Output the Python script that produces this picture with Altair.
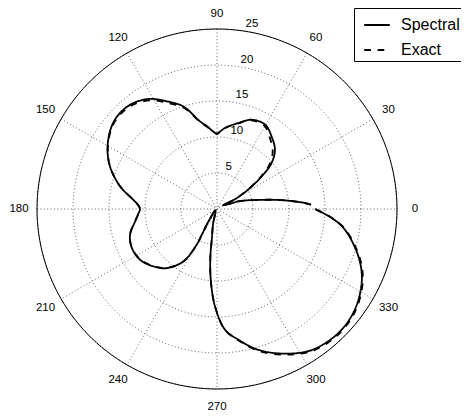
import altair as alt
import numpy as np
import pandas as pd

# ---- data (angle in degrees, radius) in drawing order ----
theta_deg = [2.6, 3.9, 6.7, 9.6, 13.3, 16.5, 19.9, 22.2, 32.3, 29.5, 28.6, 31.9, 36.1,
             40.1, 45.6, 53.0, 60.3, 68.8, 76.1, 84.4, 87.5, 90.0, 93.0, 97.0, 101.0,
             108.2, 115.0, 121.3, 128.3, 135.3, 141.9, 150.3, 158.3, 166.9, 173.7,
             177.0, 180.0, 183.5, 188.6, 196.5, 204.6, 213.4, 222.0, 229.5, 237.3,
             240.4, 239.4, 235.3, 219.0, 255.4, 260.0, 262.2, 265.0, 268.8, 273.8,
             279.3, 286.4, 295.2, 303.9, 314.4, 323.9, 333.9, 341.5, 350.8, 355.5, 360.0]
r_spectral = [13.07, 12.25, 9.93, 7.7, 5.4, 4.2, 3.1, 1.95, 0.98, 1.92, 2.85, 5.06, 7.7,
              9.9, 11.5, 12.6, 13.5, 13.3, 12.3, 11.3, 10.8, 10.45, 10.8, 11.6, 12.4,
              15.0, 16.5, 17.9, 18.75, 18.96, 18.6, 17.5, 16.0, 13.8, 11.7,
              11.0, 10.7, 10.95, 11.5, 12.6, 13.0, 12.8, 11.9, 10.8, 8.65,
              5.7, 4.1, 2.03, 0.27, 2.2, 4.05, 6.83, 9.9, 13.5, 16.8,
              18.4, 20.4, 22.2, 23.6, 24.1, 23.7, 22.4, 20.7, 18.0, 16.0, 13.6]
r_exact = [13.07, 12.25, 9.93, 7.7, 5.4, 4.2, 3.1, 1.95, 0.98, 1.92, 2.85, 4.9, 7.4,
           9.5, 11.05, 12.25, 13.3, 13.2, 12.25, 11.3, 10.8, 10.45, 10.8, 11.5, 12.3,
           14.8, 16.25, 17.65, 18.55, 18.8, 18.5, 17.45, 16.0, 13.8, 11.7,
           11.0, 10.7, 10.95, 11.5, 12.6, 13.0, 12.75, 11.85, 10.75, 8.65,
           5.7, 4.1, 2.03, 0.27, 2.2, 4.05, 6.83, 9.9, 13.5, 16.85,
           18.5, 20.55, 22.35, 23.75, 24.25, 23.85, 22.55, 20.85, 18.1, 16.05, 13.6]

series_names = ["Spectral", "Exact"]
angle_ticks = [0, 30, 60, 90, 120, 150, 180, 210, 240, 270, 300, 330]
angle_labels = [str(a) for a in angle_ticks]
ring_values = [5, 10, 15, 20, 25]
ring_labels = [str(v) for v in ring_values]
spoke_angles = [30, 60, 90, 120, 150, 180]
r_max = 25

FONT = "Liberation Sans"

n = len(theta_deg)
curve_df = pd.DataFrame({
    "theta": theta_deg + theta_deg,
    "r": r_spectral + r_exact,
    "series": [series_names[0]] * n + [series_names[1]] * n,
    "idx": list(range(n)) + list(range(n)),
})

# grid-circle geometry
circ_a = np.arange(0, 361, 2)
circ_rows = [{"ring": rv, "a": float(a)} for rv in ring_values for a in circ_a]
circle_df = pd.DataFrame(circ_rows)

spoke_df = pd.DataFrame({"a": spoke_angles})
angle_df = pd.DataFrame({"a": angle_ticks, "label": angle_labels})
ringlab_df = pd.DataFrame({"v": ring_values, "label": ring_labels})

xs = alt.Scale(domain=[-r_max, r_max], nice=False, zero=False)
ys = alt.Scale(domain=[-r_max, r_max], nice=False, zero=False)
X = lambda f: alt.X(f, type="quantitative", scale=xs, axis=None)
Y = lambda f: alt.Y(f, type="quantitative", scale=ys, axis=None)

grid_circles = alt.Chart(circle_df).transform_calculate(
    x="datum.ring*cos(datum.a*PI/180)", y="datum.ring*sin(datum.a*PI/180)"
).mark_line(color="#555555", strokeWidth=0.9, strokeDash=[1, 2.4]).encode(
    x=X("x"), y=Y("y"), detail="ring:N", order="a:Q"
)

outer_circle = alt.Chart(circle_df).transform_filter(
    alt.datum.ring == r_max
).transform_calculate(
    x="datum.ring*cos(datum.a*PI/180)", y="datum.ring*sin(datum.a*PI/180)"
).mark_line(color="black", strokeWidth=1).encode(
    x=X("x"), y=Y("y"), order="a:Q"
)

spokes = alt.Chart(spoke_df).transform_calculate(
    x=f"{r_max}*cos(datum.a*PI/180)", y=f"{r_max}*sin(datum.a*PI/180)",
    x2=f"-{r_max}*cos(datum.a*PI/180)", y2=f"-{r_max}*sin(datum.a*PI/180)",
).mark_rule(color="#555555", strokeWidth=0.9, strokeDash=[1, 2.4]).encode(
    x=X("x"), y=Y("y"), x2="x2:Q", y2="y2:Q"
)

angle_base = alt.Chart(angle_df).transform_calculate(
    x=f"1.1*{r_max}*cos(datum.a*PI/180)", y=f"1.1*{r_max}*sin(datum.a*PI/180)"
)
angle_text = angle_base.transform_filter(alt.datum.a != 90).mark_text(
    font=FONT, fontSize=11.5, color="black", align="center", baseline="middle"
).encode(x=X("x"), y=Y("y"), text="label:N")
# the top label sits at the page edge: nudge it down so it stays whole
angle_text_top = angle_base.transform_filter(alt.datum.a == 90).mark_text(
    font=FONT, fontSize=11.5, color="black", align="center", baseline="middle", dy=3
).encode(x=X("x"), y=Y("y"), text="label:N")

ring_text = alt.Chart(ringlab_df).transform_calculate(
    x="(datum.v+0.25)*cos(82*PI/180)", y="(datum.v+0.25)*sin(82*PI/180)"
).mark_text(font=FONT, fontSize=11.5, color="black", align="left", baseline="bottom", dx=3.2).encode(
    x=X("x"), y=Y("y"), text="label:N"
)

curves = alt.Chart(curve_df).transform_calculate(
    x="datum.r*cos(datum.theta*PI/180)", y="datum.r*sin(datum.theta*PI/180)"
).mark_line(color="black", strokeWidth=1.8, interpolate="catmull-rom").encode(
    x=X("x"), y=Y("y"),
    order=alt.Order("idx:Q"),
    strokeDash=alt.StrokeDash(
        "series:N",
        scale=alt.Scale(domain=series_names, range=[[1, 0], [6.7, 6.7]]),
        legend=alt.Legend(
            title=None, orient="none", legendX=317, legendY=-21,
            padding=3, symbolOffset=6, symbolType="stroke", symbolSize=655,
            symbolStrokeWidth=2, symbolStrokeColor="black",
            labelFont=FONT, labelFontSize=16, labelColor="black", labelOffset=10,
            rowPadding=3, strokeColor="black", fillColor="white", labelLimit=200,
        ),
    ),
)

chart = alt.layer(grid_circles, spokes, outer_circle, angle_text, angle_text_top, ring_text, curves).properties(
    width=360, height=360,
    autosize=alt.AutoSizeParams(type="none"),
    padding={"left": 29, "top": 21, "right": 64, "bottom": 24},
    background="white",
).configure_view(strokeWidth=0)

chart.save("out.html", embed_options={"renderer": "svg", "actions": False})
